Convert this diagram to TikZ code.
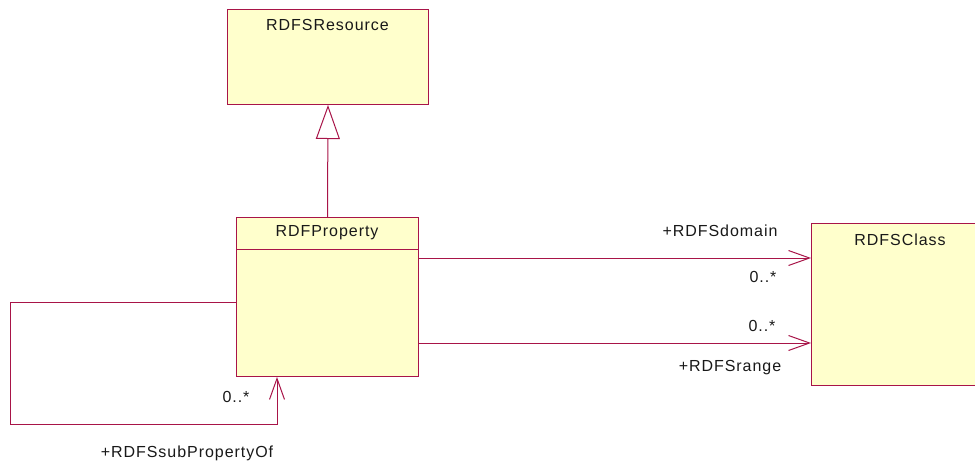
\documentclass[tikz,border=0pt]{standalone}
\usepackage{fontspec}
\setmainfont{Liberation Sans}[LetterSpace=6]
\usetikzlibrary{arrows.meta}
\definecolor{umlline}{RGB}{168,20,72}
\definecolor{umlfill}{RGB}{255,255,204}
\tikzset{
  cls/.style={draw=umlline, fill=umlfill, line width=1pt, inner sep=0pt, anchor=north west},
  lbl/.style={inner sep=0pt, text=black!90, font=\fontsize{16}{19}\selectfont},
  assoc/.style={draw=umlline, line width=1pt, -{Straight Barb[length=21pt,width=15pt,line width=1pt]}},
  gen/.style={draw=umlline, line width=1pt, -{Triangle[open,length=34pt,width=24pt,line width=1pt,fill=white]}},
  sep/.style={draw=umlline, line width=1pt}
}
\begin{document}
\begin{tikzpicture}[x=1pt,y=-1pt]
\clip (0,0) rectangle (975,464);
\fill[white] (0,0) rectangle (975,464);
% classes
\node[cls, minimum width=201pt, minimum height=95pt] (res) at (227,9) {};
\node[lbl] (resT) at (327.5,25) {RDFSResource};
\node[cls, minimum width=182pt, minimum height=159pt] (prop) at (236,217) {};
\node[lbl] (propT) at (327,233) {RDFProperty};
\draw[sep] (prop.west |- 0,249) -- (prop.east |- 0,249);
\node[cls, minimum width=180pt, minimum height=162pt] (rc) at (811,223) {};
\node[lbl] (rcT) at (900,240) {RDFSClass};
% generalization
\draw[gen] (prop.north) -- (res.south);
% associations
\draw[assoc] (prop.east |- 0,258) -- (rc.west |- 0,258);
\draw[assoc] (prop.east |- 0,343) -- (rc.west |- 0,343);
\coordinate (loopA) at (10,302);
\coordinate (loopB) at (277,424);
\draw[assoc] (prop.west |- loopA) -- (loopA) |- (loopB) -- (loopB |- prop.south);
% labels
\node[lbl] (dom) at (720,231) {+RDFSdomain};
\node[lbl] (m1) at (763,277) {0..*};
\node[lbl] (m2) at (762,326) {0..*};
\node[lbl] (rng) at (730,368) {+RDFSrange};
\node[lbl] (m3) at (236,397) {0..*};
\node[lbl] (sub) at (187,453) {+RDFSsubPropertyOf};
\end{tikzpicture}
\end{document}
